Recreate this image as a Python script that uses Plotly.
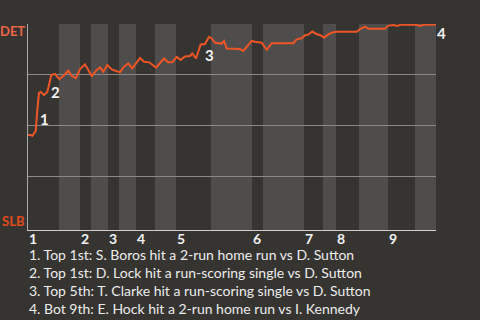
import plotly.graph_objects as go

# Win-probability trace (x = event index, y = DET win probability)
wp_x = [0, 2.7, 4.3, 7.7, 9.3, 11, 12.7, 16, 19.3, 21, 23.3, 27, 31.3, 35.3, 40.3, 43.7, 48,
        52, 57, 60.3, 63.7, 68.7, 72, 75.3, 79.3, 83.7, 88.7, 92, 96, 100.3, 104.3, 108.7,
        112, 116, 121.3, 128, 132, 136, 140.3, 144.7, 148.7, 152.7, 157, 162, 164.3, 168,
        171.3, 172.7, 177, 181, 183.7, 187, 193.7, 196, 198.7, 212, 215.3, 223.7, 227,
        233.7, 238.7, 243.7, 265.3, 268.7, 273.7, 277, 280.3, 284.3, 288.7, 292, 296, 300.3,
        303.7, 308, 328.7, 332, 337, 340.3, 357, 360.3, 365.3, 369.3, 372, 388.7, 392,
        395.3, 408]
wp_y = [0.456, 0.456, 0.451, 0.475, 0.578, 0.662, 0.667, 0.652, 0.667, 0.701, 0.750,
        0.755, 0.730, 0.745, 0.771, 0.745, 0.735, 0.779, 0.802, 0.775, 0.745, 0.775, 0.787,
        0.766, 0.799, 0.777, 0.770, 0.763, 0.791, 0.807, 0.783, 0.815, 0.833, 0.815, 0.812,
        0.786, 0.807, 0.831, 0.812, 0.814, 0.839, 0.824, 0.841, 0.843, 0.856, 0.831, 0.880,
        0.900, 0.902, 0.937, 0.929, 0.908, 0.904, 0.917, 0.880, 0.877, 0.868, 0.917, 0.913,
        0.908, 0.873, 0.906, 0.906, 0.925, 0.930, 0.945, 0.948, 0.963, 0.950, 0.946, 0.933,
        0.949, 0.957, 0.962, 0.962, 0.975, 0.987, 0.977, 0.977, 0.992, 0.995, 0.990, 0.996,
        0.996, 0.991, 0.996, 0.997]

# Half-inning boundaries (event index); even entries start a top half
half_bounds = [0, 31, 52, 63, 80, 91, 108, 127, 148, 183, 224, 235, 276, 295, 308, 331,
               360, 387, 408]
inning_labels = ["1", "2", "3", "4", "5", "6", "7", "8", "9"]

# Key events: index into the trace, label
event_idx = [4, 9, 48, 86]
event_labels = ["1", "2", "3", "4"]
event_shift = [(7, -9), (6, -7), (4, -11), (5, -8)]
event_text = [
    "1. Top 1st: S. Boros hit a 2-run home run vs D. Sutton",
    "2. Top 1st: D. Lock hit a run-scoring single vs D. Sutton",
    "3. Top 5th: T. Clarke hit a run-scoring single vs D. Sutton",
    "4. Bot 9th: E. Hock hit a 2-run home run vs I. Kennedy",
]
team_top, team_bottom = "DET", "SLB"

FONT = "Lato"
BG = "#363431"
LIGHT = "#4e4d4b"
LINE = "#ee5526"

fig = go.Figure()
fig.add_trace(go.Scatter(x=wp_x, y=wp_y, mode="lines",
                         line=dict(color=LINE, width=2), hoverinfo="skip"))

shapes = []
for i in range(len(half_bounds) - 1):
    if i % 2 == 1:
        shapes.append(dict(type="rect", xref="x", yref="paper", x0=half_bounds[i],
                           x1=half_bounds[i + 1], y0=0, y1=1, fillcolor=LIGHT,
                           line=dict(width=0), layer="below"))

annotations = []
for k, lab in enumerate(inning_labels):
    annotations.append(dict(x=half_bounds[2 * k], y=0, xref="x", yref="paper",
                            text=lab, showarrow=False, xanchor="left", yanchor="middle",
                            yshift=-8, xshift=-1,
                            font=dict(family=FONT, size=14, color="#f2f2f2", weight="bold")))
for idx, lab, (dx, dy) in zip(event_idx, event_labels, event_shift):
    annotations.append(dict(x=wp_x[idx], y=wp_y[idx], xref="x", yref="y", text=lab,
                            showarrow=False, xanchor="center", yanchor="middle",
                            xshift=dx, yshift=dy,
                            font=dict(family=FONT, size=15, color="#f2f2f2", weight="bold")))
annotations.append(dict(x=0, y=1, xref="paper", yref="paper", text=team_top,
                        showarrow=False, xanchor="right", yanchor="middle", xshift=-1,
                        yshift=-7,
                        font=dict(family=FONT, size=13, color="#ec6548", weight="bold")))
annotations.append(dict(x=0, y=0, xref="paper", yref="paper", text=team_bottom,
                        showarrow=False, xanchor="right", yanchor="middle", xshift=-1,
                        yshift=9,
                        font=dict(family=FONT, size=13, color="#e04a1c", weight="bold")))
for j, t in enumerate(event_text):
    annotations.append(dict(x=0, y=0, xref="paper", yref="paper", text=t,
                            showarrow=False, xanchor="left", yanchor="middle",
                            yshift=-24 - 18 * j, xshift=-1,
                            font=dict(family=FONT, size=14, color="#ececec")))

fig.update_layout(
    width=480, height=320,
    margin=dict(l=28, r=44, t=24, b=90),
    paper_bgcolor=BG, plot_bgcolor=BG,
    showlegend=False,
    shapes=shapes,
    annotations=annotations,
    xaxis=dict(range=[half_bounds[0], half_bounds[-1]], showgrid=False, zeroline=False,
               showticklabels=False, showline=True, linecolor="#cfcfcf", linewidth=1,
               ticks="", fixedrange=True),
    yaxis=dict(range=[-0.01, 1.0], tickvals=[0.25, 0.5, 0.75, 1.0], showgrid=True,
               gridcolor="#8a8987", gridwidth=1, zeroline=False, showticklabels=False,
               showline=True, linecolor="#a8a8a8", linewidth=1, ticks="", fixedrange=True),
)
fig.write_html("out.html", config={"displayModeBar": False})
